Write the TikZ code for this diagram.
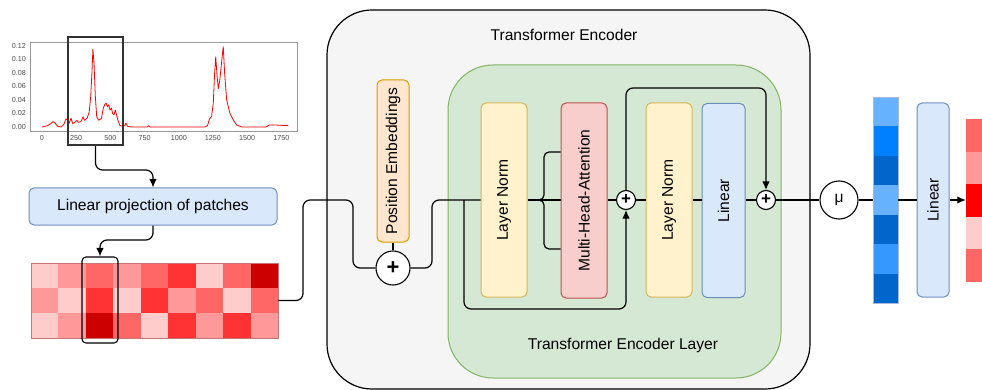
\documentclass[tikz,border=0pt]{standalone}
\usepackage{fontspec}
\setmainfont{Liberation Sans}
\usepackage{graphicx}
\usepackage{tikz}
\usetikzlibrary{arrows.meta}

\definecolor{blueFill}{HTML}{DAE8FC}
\definecolor{blueLine}{HTML}{6C8EBF}
\definecolor{orangeFill}{HTML}{FFE6CC}
\definecolor{orangeLine}{HTML}{D79B00}
\definecolor{yellowFill}{HTML}{FFF2CC}
\definecolor{yellowLine}{HTML}{D6B656}
\definecolor{redFill}{HTML}{F8CECC}
\definecolor{redLine}{HTML}{B85450}
\definecolor{greenFill}{HTML}{D5E8D4}
\definecolor{greenLine}{HTML}{82B366}
\definecolor{grayFill}{HTML}{F5F5F5}
\definecolor{hA}{HTML}{FFCCCC}
\definecolor{hB}{HTML}{FF9999}
\definecolor{hC}{HTML}{FF6666}
\definecolor{hD}{HTML}{FF3333}
\definecolor{hE}{HTML}{CC0000}
\definecolor{hF}{HTML}{FF0000}
\definecolor{bA}{HTML}{66B2FF}
\definecolor{bB}{HTML}{007FFF}
\definecolor{bC}{HTML}{0066CC}
\definecolor{bD}{HTML}{3399FF}

\begin{document}
\begin{tikzpicture}[x=1pt,y=-1pt]
\tikzset{>={Latex[width=7.5pt,length=8.5pt]}}
\tikzstyle{block}=[draw, rounded corners=5pt, line width=1pt, inner sep=0pt, font=\fontsize{15.6}{18}\selectfont]
\tikzstyle{addnode}=[draw, circle, fill=white, line width=1.1pt, inner sep=0pt]
\tikzstyle{wire}=[line width=1.2pt, rounded corners=7pt]
\tikzstyle{ticklabel}=[inner sep=0pt, text=black!70, font=\fontsize{7.2}{8}\selectfont]
\tikzstyle{caption}=[inner sep=0pt, font=\fontsize{15.6}{18}\selectfont]

\useasboundingbox (0,0) rectangle (982,390);
\clip (0,0) rectangle (982,390);

% spectrum plot
\draw[black!40, line width=0.6pt] (30,42) rectangle (297,131);
\foreach \py/\lab in {127/0.00,113.5/0.02,100/0.04,86.5/0.06,73/0.08,59.5/0.10,46/0.12}
  \node[ticklabel, anchor=east] at (26,\py) {\lab};
\foreach \d in {0,250,500,750,1000,1250,1500,1750}
  \node[ticklabel] at ({42+\d*0.1368},138) {\d};
\begin{scope}[shift={(42,127)}, xscale=0.1368, yscale=-675]
\draw[red, line width=0.8pt, line join=round] plot coordinates {
 (0,0.000) (40,0.002) (65,0.005) (80,0.008) (95,0.006) (115,0.001) (140,0.000)
 (160,0.004) (175,0.012) (190,0.010) (200,0.006) (212,0.013) (225,0.005)
 (240,0.007) (255,0.010) (265,0.007) (285,0.008) (300,0.015) (310,0.010)
 (330,0.013) (345,0.022) (356,0.045) (365,0.080) (372,0.115) (380,0.095)
 (390,0.045) (400,0.015) (415,0.010) (435,0.013) (448,0.028) (460,0.034)
 (470,0.035) (478,0.030) (488,0.033) (497,0.025) (508,0.028) (516,0.020)
 (526,0.018) (536,0.025) (545,0.018) (555,0.010) (570,0.002) (590,0.001)
 (605,0.002) (614,0.006) (625,0.001) (650,0.000) (770,0.000) (780,0.002)
 (790,0.000) (1190,0.000) (1210,0.002) (1225,0.012) (1240,0.016) (1252,0.035)
 (1262,0.080) (1270,0.104) (1280,0.075) (1289,0.057) (1300,0.070) (1315,0.100)
 (1325,0.119) (1335,0.080) (1350,0.040) (1374,0.020) (1400,0.010) (1423,0.003)
 (1460,0.000) (1640,0.000) (1660,0.003) (1700,0.003) (1800,0.002)};
\end{scope}
\node[draw=black!80, line width=1.1pt, minimum width=55pt, minimum height=108pt, inner sep=0pt] (sel) at (95.5,91) {};

% patches
\node[block, fill=blueFill, draw=blueLine, minimum width=248pt, minimum height=37pt] (proj) at (153,206.5) {Linear projection of patches};
\foreach \row [count=\r from 0] in {{hA,hB,hC,hB,hC,hD,hA,hC,hE},{hB,hA,hD,hA,hD,hB,hC,hA,hC},{hA,hB,hE,hC,hA,hD,hB,hD,hB}}
  \foreach \c [count=\k from 0] in \row
    \fill[\c] ({31+\k*27.44},{263+\r*25}) rectangle ++(27.44,25);
\node[draw=redLine!80, line width=0.6pt, minimum width=247pt, minimum height=75pt, inner sep=0pt] (heat) at (154.5,300.5) {};
\node[draw, line width=1.1pt, rounded corners=4pt, minimum width=36pt, minimum height=86pt, inner sep=0pt] (col) at (100,300) {};

\draw[wire,->] (sel.south) -- (sel.south |- 0,170) -| (proj.north);
\draw[wire,->] (proj.south) -- (proj.south |- 0,240) -| (col.north);

% encoder
\node[draw, fill=grayFill, line width=1.2pt, rounded corners=45pt, minimum width=483pt, minimum height=379pt, inner sep=0pt] (encoder) at (568.5,199.5) {};
\node[caption] at (564,35) {Transformer Encoder};
\node[draw=greenLine, fill=greenFill, line width=1pt, rounded corners=45pt, minimum width=333pt, minimum height=313pt, inner sep=0pt] (layer) at (614.5,221.5) {};
\node[caption] at (623,345) {Transformer Encoder Layer};

\node[block, fill=orangeFill, draw=orangeLine, minimum width=32pt, minimum height=162pt] (posemb) at (393,161) {\rotatebox{90}{Position Embeddings}};
\node[addnode, minimum size=34pt, font=\fontsize{22}{22}\selectfont\bfseries] (addpos) at (393,268) {+};
\node[block, fill=yellowFill, draw=yellowLine, minimum width=46pt, minimum height=194pt] (ln1) at (504,200) {\rotatebox{90}{Layer Norm}};
\node[block, fill=redFill, draw=redLine, minimum width=46pt, minimum height=195pt] (mha) at (584,200.5) {\rotatebox{90}{Multi-Head-Attention}};
\node[addnode, minimum size=19pt, font=\fontsize{17}{17}\selectfont\bfseries] (add1) at (626,200) {+};
\node[block, fill=yellowFill, draw=yellowLine, minimum width=46pt, minimum height=194pt] (ln2) at (669,200) {\rotatebox{90}{Layer Norm}};
\node[block, fill=blueFill, draw=blueLine, minimum width=43pt, minimum height=194pt] (lin1) at (723.5,200.5) {\rotatebox{90}{Linear}};
\node[addnode, minimum size=19pt, font=\fontsize{17}{17}\selectfont\bfseries] (add2) at (766,200) {+};

% head
\node[addnode, minimum size=38pt, font=\fontsize{15.6}{18}\selectfont] (mean) at (839,200) {μ};
\foreach \c [count=\k from 0] in {bA,bB,bC,bA,bC,bD,bC}
  \fill[\c] (873,{97+\k*29.43}) rectangle ++(25,29.43);
\node[draw=blueLine!60, line width=0.5pt, minimum width=25pt, minimum height=206pt, inner sep=0pt] (emb) at (885.5,200) {};
\node[block, fill=blueFill, draw=blueLine, minimum width=32pt, minimum height=194pt] (lin2) at (933,200) {\rotatebox{90}{Linear}};
\foreach \c [count=\k from 0] in {hC,hB,hF,hA,hC}
  \fill[\c] (966,{119+\k*32.6}) rectangle ++(30,32.6);
\node[minimum width=30pt, minimum height=163pt, inner sep=0pt] (out) at (981,200.5) {};

% connectors
\draw[wire] (heat.east) -- (303,300.5) -- (303,200) -- (353,200) -- (353,268) -- (addpos.west);
\draw[wire] (posemb.south) -- (addpos.north);
\draw[wire] (addpos.east) -- (432,268) -- (432,200) -- (ln1.west);
\coordinate (split) at (464,200);
\draw[wire,->] (split) |- (add1.south |- 0,309) -- (add1.south);
\draw[wire] (ln1.east) -- (mha.west |- 0,200);
\draw[wire, rounded corners=5pt] (mha.west |- 0,152) -- (544,152) -- (544,200) -- (536,200);
\draw[wire, rounded corners=5pt] (mha.west |- 0,249) -- (544,249) -- (544,200) -- (536,200);
\draw[wire] (mha.east |- 0,200) -- (add1.west);
\draw[wire,->] (add1.north) |- (add2.north |- 0,88) -- (add2.north);
\draw[wire] (add1.east) -- (ln2.west);
\draw[wire] (ln2.east) -- (lin1.west |- 0,200);
\draw[wire] (lin1.east |- 0,200) -- (add2.west);
\draw[wire] (add2.east) -- (mean.west);
\draw[wire] (mean.east) -- (emb.west);
\draw[wire] (emb.east) -- (lin2.west);
\draw[wire,->] (lin2.east) -- (out.west |- 0,200);
\end{tikzpicture}
\end{document}
